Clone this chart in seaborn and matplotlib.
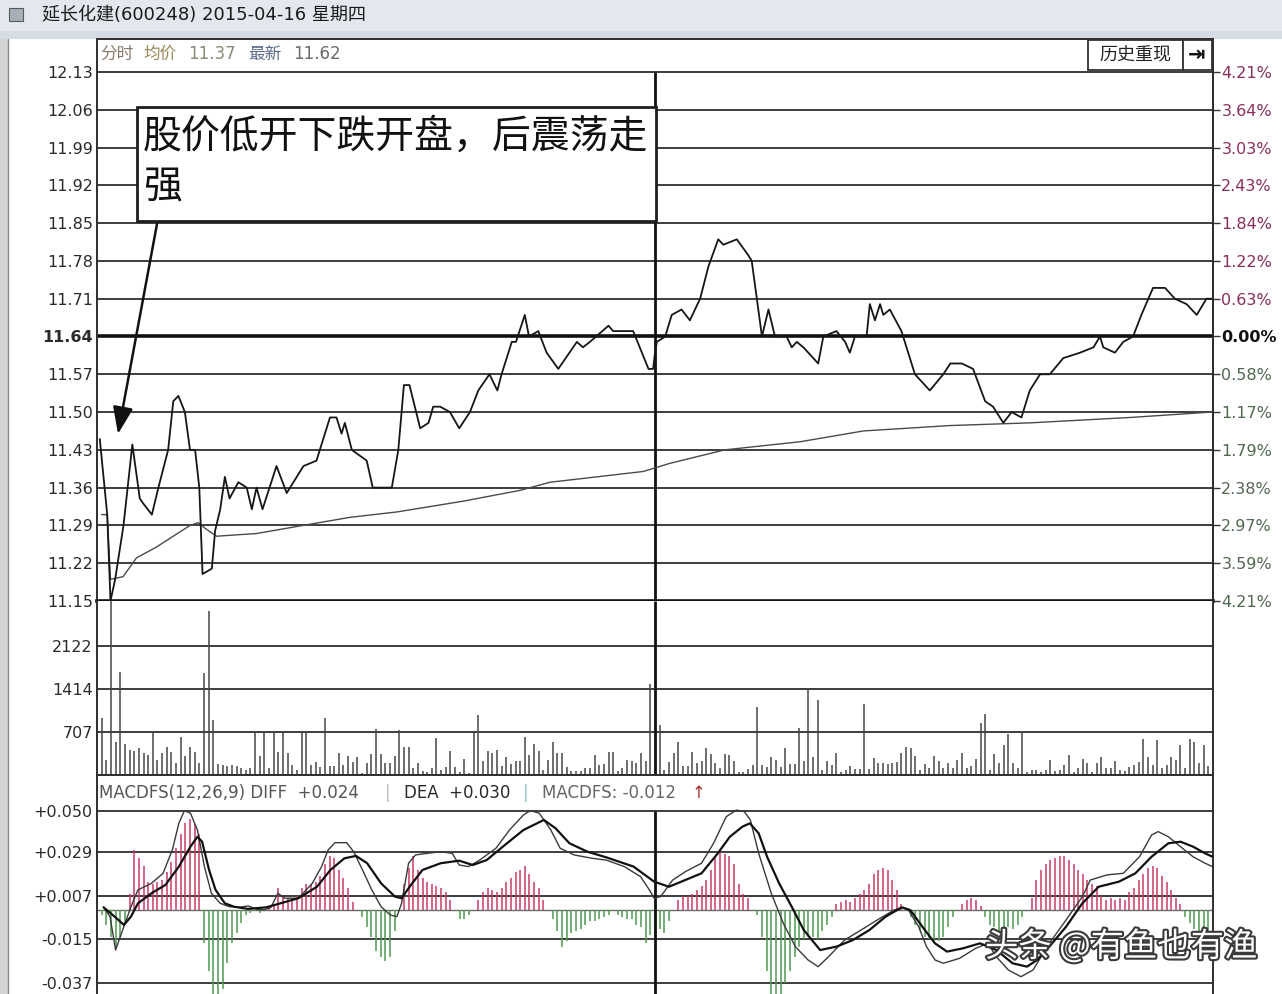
import matplotlib
matplotlib.use("Agg")
import numpy as np
import pandas as pd
import matplotlib.pyplot as plt
import matplotlib.patheffects as pe
from matplotlib.patches import Rectangle
from matplotlib.lines import Line2D
import seaborn as sns

# ---------------- data ----------------
title_text = "延长化建(600248) 2015-04-16 星期四"
annotation_lines = ["股价低开下跌开盘，后震荡走", "强"]

# price axis (left) and change vs. previous close 11.64 (right)
price_ticks = [12.13, 12.06, 11.99, 11.92, 11.85, 11.78, 11.71, 11.64,
               11.57, 11.50, 11.43, 11.36, 11.29, 11.22, 11.15]
pct_labels = ["4.21%", "3.64%", "3.03%", "2.43%", "1.84%", "1.22%", "0.63%", "0.00%",
              "0.58%", "1.17%", "1.79%", "2.38%", "2.97%", "3.59%", "4.21%"]
prev_close = 11.64

# intraday price (minute index 0..240, 120 = 11:30/13:00)
price_minute = [0.6, 2.2, 2.9, 3.9, 5.7, 7.6, 9.2, 10.0, 11.8, 13.2,
                15.3, 16.4, 17.5, 18.9, 20.0, 21.1, 22.0, 22.7, 24.7, 25.4,
                26.5, 27.5, 28.5, 30.4, 32.2, 33.3, 34.3, 35.6, 38.6, 40.8,
                44.4, 47.2, 50.1, 51.5, 52.6, 53.3, 54.8, 58.0, 59.3, 63.4,
                64.8, 66.0, 67.2, 69.5, 71.3, 72.3, 73.8, 75.9, 77.9, 80.2,
                82.0, 84.4, 86.1, 87.0, 89.2, 90.1, 92.0, 92.9, 94.9, 96.7,
                99.2, 103.2, 104.5, 106.0, 110.0, 111.0, 115.3, 118.6, 119.6, 120.0,
                120.4, 122.2, 123.6, 125.7, 127.5, 129.7, 131.5, 133.6, 134.7, 137.6,
                140.1, 140.8, 143.0, 144.4, 145.8, 148.3, 149.4, 150.5, 151.9, 155.1,
                156.2, 159.0, 160.9, 161.9, 163.0, 165.5, 166.2, 167.3, 168.4, 169.1,
                170.5, 173.0, 175.9, 179.1, 182.0, 183.5, 186.0, 188.4, 191.0, 192.7,
                194.9, 196.7, 198.8, 200.6, 202.8, 204.9, 207.8, 211.4, 214.3, 215.7,
                216.4, 218.9, 220.7, 222.8, 224.6, 227.1, 229.7, 231.8, 234.3, 236.5,
                238.6, 239.7]
price_value = [11.45, 11.31, 11.15, 11.19, 11.29, 11.44, 11.34, 11.33, 11.31, 11.36,
               11.43, 11.52, 11.53, 11.50, 11.43, 11.43, 11.36, 11.20, 11.21, 11.28,
               11.32, 11.38, 11.34, 11.37, 11.36, 11.32, 11.36, 11.32, 11.40, 11.35,
               11.40, 11.41, 11.49, 11.49, 11.46, 11.48, 11.43, 11.41, 11.36, 11.36,
               11.43, 11.55, 11.55, 11.47, 11.48, 11.51, 11.51, 11.50, 11.47, 11.50,
               11.54, 11.57, 11.54, 11.57, 11.63, 11.63, 11.68, 11.64, 11.65, 11.61,
               11.58, 11.63, 11.62, 11.63, 11.66, 11.65, 11.65, 11.58, 11.58, 11.61,
               11.63, 11.64, 11.68, 11.69, 11.67, 11.71, 11.77, 11.82, 11.81, 11.82,
               11.79, 11.78, 11.64, 11.69, 11.64, 11.64, 11.62, 11.63, 11.62, 11.59,
               11.64, 11.65, 11.63, 11.61, 11.64, 11.64, 11.70, 11.67, 11.70, 11.68,
               11.69, 11.65, 11.57, 11.54, 11.57, 11.59, 11.59, 11.58, 11.52, 11.51,
               11.48, 11.50, 11.49, 11.54, 11.57, 11.57, 11.60, 11.61, 11.62, 11.64,
               11.62, 11.61, 11.63, 11.64, 11.68, 11.73, 11.73, 11.71, 11.70, 11.68,
               11.71, 11.71]

# average price line
avg_minute = [1.0, 2.2, 2.9, 5.6, 8.5, 12.8, 16.4, 20.0, 21.8, 23.2, 25.7, 34.3, 44.3, 54.4,
              64.5, 78.8, 91.0, 97.4, 107.5, 117.5, 123.2, 135.0, 151.2, 164.8, 183.4,
              200.6, 222.2, 239.7]
avg_value = [11.31, 11.31, 11.19, 11.195, 11.23, 11.25, 11.27, 11.29, 11.295, 11.285, 11.27,
             11.275, 11.29, 11.305, 11.315, 11.335, 11.355, 11.37, 11.38, 11.39, 11.405,
             11.43, 11.445, 11.465, 11.475, 11.48, 11.49, 11.50]

# per-minute volume (lots), minute 0..240
volume = [0, 932, 247, 3000, 548, 1699, 510, 411, 400, 444,
          367, 329, 696, 247, 356, 455, 384, 203, 619, 312,
          455, 384, 203, 1682, 2701, 904, 175, 160, 150, 165,
          140, 120, 90, 110, 696, 312, 723, 110, 696, 384,
          696, 356, 164, 82, 696, 696, 164, 219, 137, 942,
          140, 140, 356, 164, 312, 219, 290, 27, 203, 345,
          751, 345, 192, 192, 312, 740, 455, 466, 110, 192,
          71, 55, 110, 603, 82, 137, 400, 137, 55, 258,
          27, 696, 986, 236, 400, 356, 411, 148, 290, 181,
          230, 230, 630, 329, 510, 400, 82, 247, 548, 367,
          367, 126, 71, 71, 71, 110, 110, 329, 164, 181,
          384, 384, 71, 110, 247, 236, 192, 367, 236, 1496,
          0, 822, 82, 219, 367, 548, 148, 148, 384, 192,
          236, 444, 345, 203, 110, 345, 329, 236, 55, 55,
          93, 164, 1112, 164, 137, 301, 247, 137, 444, 181,
          181, 767, 236, 1408, 301, 1233, 82, 236, 164, 356,
          55, 82, 148, 93, 93, 1167, 93, 274, 192, 192,
          181, 192, 219, 367, 455, 444, 312, 82, 181, 110,
          312, 236, 110, 203, 110, 247, 367, 110, 148, 258,
          849, 1002, 82, 345, 192, 493, 674, 192, 110, 729,
          55, 82, 82, 55, 82, 247, 71, 82, 164, 329,
          55, 110, 258, 192, 55, 192, 290, 110, 110, 236,
          82, 71, 137, 164, 219, 592, 290, 164, 581, 110,
          164, 301, 247, 493, 110, 592, 548, 203, 493, 150,
          0]
volume_ticks = [707, 1414, 2122]

# MACDFS histogram per minute, in thousandths
macd_hist_milli = [0, -3, -8, -14, -19, -15, -8, 8, 30, 26,
                   22, 14, 13, 14, 15, 19, 24, 31, 38, 44,
                   46, 43, 38, -17, -31, -46, -45, -40, -27, -17,
                   -12, -7, -3, -2, -1, -2, -1, 1, 2, 11,
                   7, 6, 6, 7, 11, 13, 13, 14, 17, 23,
                   27, 26, 20, 16, 11, 4, 0, -4, -9, -14,
                   -21, -24, -26, -24, -11, 0, 13, 21, 27, 20,
                   16, 14, 13, 12, 11, 9, 5, 0, -5, -5,
                   -3, 0, 5, 9, 11, 10, 9, 11, 14, 16,
                   19, 20, 22, 18, 14, 11, 5, 0, -5, -11,
                   -19, -16, -12, -11, -10, -8, -6, -6, -5, -4,
                   -3, 0, -3, -4, -5, -5, -8, -9, -17, -13,
                   -15, -10, -12, -6, 0, 5, 7, 7, 8, 10,
                   12, 15, 20, 26, 29, 28, 27, 23, 13, 8,
                   6, 0, -3, -14, -31, -43, -45, -45, -37, -31,
                   -24, -19, -15, -14, -14, -15, -11, -8, -4, 3,
                   4, 5, 4, 6, 8, 10, 13, 18, 20, 21,
                   20, 15, 10, 3, 0, -4, -8, -11, -14, -15,
                   -17, -16, -14, -9, -4, 0, 3, 5, 6, 5,
                   2, -4, -8, -9, -11, -11, -9, -10, -8, -4,
                   0, 6, 15, 20, 23, 25, 26, 27, 27, 25,
                   23, 20, 18, 15, 13, 12, 7, 5, 6, 5,
                   6, 5, 9, 11, 15, 18, 21, 22, 21, 17,
                   14, 10, 6, 3, -4, -7, -10, -11, -9, -11,
                   -9]

diff_minute = [1.4, 2.8, 4.0, 5.0, 7.3, 8.8, 11.7, 14.2, 16.2, 17.6, 18.8, 20.1, 21.6, 23.1,
               24.6, 26.5, 28.5, 30.5, 32.5, 34.4, 35.9, 37.4, 38.9, 40.4, 43.3, 46.3, 48.3,
               49.7, 51.2, 53.7, 55.2, 57.1, 59.1, 61.1, 63.1, 64.5, 65.5, 67.0, 68.5, 71.0,
               73.9, 76.4, 77.9, 79.9, 82.3, 85.8, 88.7, 91.7, 93.2, 95.1, 97.6, 99.6, 102.6,
               106.5, 109.5, 113.4, 116.9, 118.8, 119.8, 121.2, 123.8, 126.5, 130.0, 132.6,
               135.3, 137.5, 139.2, 140.5, 142.3, 145.0, 147.6, 150.2, 152.9, 155.1, 157.3,
               160.8, 164.3, 167.8, 171.4, 173.1, 174.5, 176.7, 178.4, 180.2, 182.0, 185.5,
               189.0, 191.6, 193.4, 196.0, 198.7, 201.3, 204.8, 208.4, 211.9, 213.6, 217.2,
               220.7, 224.2, 226.8, 228.2, 230.4, 233.0, 235.7, 238.3, 239.9]
diff_value = [0.0011, -0.0036, -0.0205, -0.0138, 0.0014, 0.0099, 0.0132, 0.0183, 0.0301,
              0.0436, 0.0500, 0.0487, 0.0402, 0.0217, 0.0082, 0.0031, 0.0014, 0.0011, 0.0018,
              0.0001, -0.0002, 0.0011, 0.0082, 0.0057, 0.0057, 0.0132, 0.0217, 0.0301, 0.0338,
              0.0338, 0.0292, 0.0200, 0.0099, 0.0014, -0.0028, -0.0036, 0.0031, 0.0234, 0.0276,
              0.0284, 0.0292, 0.0284, 0.0225, 0.0217, 0.0250, 0.0310, 0.0402, 0.0478, 0.0500,
              0.0487, 0.0402, 0.0310, 0.0276, 0.0259, 0.0250, 0.0217, 0.0166, 0.0099, 0.0057,
              0.0065, 0.0149, 0.0191, 0.0234, 0.0335, 0.0469, 0.0503, 0.0495, 0.0453, 0.0284,
              0.0082, -0.0070, -0.0188, -0.0255, -0.0289, -0.0239, -0.0154, -0.0104, -0.0053,
              -0.0003, 0.0011, -0.0003, -0.0087, -0.0188, -0.0255, -0.0272, -0.0247, -0.0196,
              -0.0171, -0.0239, -0.0306, -0.0340, -0.0306, -0.0171, -0.0053, 0.0065, 0.0149,
              0.0175, 0.0183, 0.0267, 0.0377, 0.0394, 0.0368, 0.0318, 0.0267, 0.0234, 0.0217]

dea_minute = [1.4, 3.8, 5.8, 7.3, 8.8, 11.7, 14.7, 17.6, 20.1, 21.6, 22.6, 24.1, 25.5, 27.5,
              29.5, 32.5, 36.4, 39.4, 43.3, 47.3, 50.2, 53.2, 55.7, 58.1, 61.1, 64.1, 65.5,
              67.5, 70.0, 73.9, 77.9, 80.8, 83.8, 87.7, 91.7, 96.1, 98.6, 101.6, 105.5, 109.5,
              115.4, 119.8, 123.0, 126.5, 130.0, 133.5, 136.1, 138.8, 140.4, 142.3, 144.1,
              146.7, 149.4, 152.0, 155.5, 159.0, 162.6, 166.1, 169.6, 173.1, 174.9, 177.5,
              180.2, 182.8, 186.3, 189.9, 193.4, 196.9, 200.0, 202.2, 204.8, 208.4, 211.9,
              215.4, 219.8, 223.3, 226.8, 230.4, 233.0, 235.7, 238.3, 239.9]
dea_value = [0.0011, -0.0036, -0.0078, -0.0036, 0.0031, 0.0082, 0.0124, 0.0217, 0.0318,
             0.0368, 0.0343, 0.0200, 0.0099, 0.0031, 0.0014, 0.0003, 0.0011, 0.0031, 0.0057,
             0.0115, 0.0200, 0.0259, 0.0271, 0.0234, 0.0132, 0.0065, 0.0057, 0.0124, 0.0200,
             0.0234, 0.0247, 0.0225, 0.0250, 0.0326, 0.0402, 0.0453, 0.0411, 0.0335, 0.0292,
             0.0264, 0.0217, 0.0141, 0.0115, 0.0149, 0.0183, 0.0284, 0.0368, 0.0419, 0.0436,
             0.0385, 0.0267, 0.0132, 0.0014, -0.0104, -0.0205, -0.0188, -0.0154, -0.0104,
             -0.0036, 0.0011, -0.0003, -0.0087, -0.0171, -0.0213, -0.0196, -0.0171, -0.0205,
             -0.0272, -0.0289, -0.0255, -0.0188, -0.0087, 0.0031, 0.0115, 0.0141, 0.0183,
             0.0267, 0.0335, 0.0343, 0.0318, 0.0284, 0.0267]

macd_ticks = [0.050, 0.029, 0.007, -0.015, -0.037]
macd_tick_labels = ["+0.050", "+0.029", "+0.007", "-0.015", "-0.037"]

# ---------------- style ----------------
sns.set_theme(style="white")
plt.rcParams["font.family"] = ["Noto Sans CJK SC", "DejaVu Sans"]
plt.rcParams["axes.unicode_minus"] = False

NUM_FONT = ["DejaVu Sans", "Noto Sans CJK SC"]   # wide latin digits, CJK fallback

W, H = 1282, 994
fig = plt.figure(figsize=(W / 100, H / 100), dpi=100, facecolor="white")

GRID = "#2e2e2e"
TXT = "#2a2a2a"


def fx(x):
    return x / W


def fy(y):
    return 1 - y / H


def add_rect(x0, y0, x1, y1, **kw):
    r = Rectangle((fx(x0), fy(y1)), (x1 - x0) / W, (y1 - y0) / H,
                  transform=fig.transFigure, **kw)
    fig.add_artist(r)
    return r


def add_line(x0, y0, x1, y1, **kw):
    fig.add_artist(Line2D([fx(x0), fx(x1)], [fy(y0), fy(y1)],
                          transform=fig.transFigure, **kw))


def panel(x0, y0, x1, y1):
    ax = fig.add_axes([fx(x0), fy(y1), (x1 - x0) / W, (y1 - y0) / H])
    ax.set_facecolor("white")
    ax.set_xlim(0, 240)
    ax.set_xticks([])
    for s in ax.spines.values():
        s.set_color(GRID)
        s.set_linewidth(1.4)
    return ax


def style_left_labels(ax, bold_value=None, ticks=None):
    for lab in ax.get_yticklabels():
        lab.set_family(NUM_FONT)
    if bold_value is not None:
        for lab, t in zip(ax.get_yticklabels(), ticks):
            if abs(t - bold_value) < 1e-9:
                lab.set_fontweight("bold")


# window chrome
add_rect(0, 0, W, 31, fc="#e3e8ee", ec="none", zorder=-5)
add_rect(0, 31, W, 39, fc="#d5dce5", ec="none", zorder=-5)
add_rect(0, 39, 8, H, fc="#d4d4d4", ec="none", zorder=-5)
add_line(8, 39, 8, H, color="#888888", lw=1, zorder=3)
add_rect(9, 8, 23, 21, fc="#a7afb8", ec="#5a5a5a", lw=0.8, zorder=3)
fig.text(fx(42), fy(15), title_text, fontsize=13, color="#1b1b1b", va="center", ha="left",
         family=NUM_FONT)

# ---------------- price panel ----------------
ax_p = panel(97, 39, 1213, 601)
px_per_unit = 539.8
ax_p.set_ylim(11.15, 11.15 + (601 - 39) / px_per_unit)
for t in price_ticks:
    if abs(t - 11.15) < 1e-9:
        continue
    if abs(t - prev_close) < 1e-9:
        ax_p.axhline(t, color="#111111", lw=2.6, zorder=2)
    else:
        ax_p.axhline(t, color=GRID, lw=1.3, zorder=1)
ax_p.spines["bottom"].set_linewidth(2.6)
ax_p.spines["bottom"].set_color("#111111")
ax_p.vlines(120, 11.15, 12.13, color="#111111", lw=2, zorder=3)

price_df = pd.DataFrame({"minute": price_minute, "price": price_value})
avg_df = pd.DataFrame({"minute": avg_minute, "avg": avg_value})
sns.lineplot(data=avg_df, x="minute", y="avg", ax=ax_p, color="#4a4a4a", lw=1.0,
             estimator=None, sort=False, legend=False, zorder=4)
sns.lineplot(data=price_df, x="minute", y="price", ax=ax_p, color="#161616", lw=1.3,
             estimator=None, sort=False, legend=False, zorder=5)
ax_p.set_xlabel("")
ax_p.set_ylabel("")
ax_p.set_xlim(0, 240)
ax_p.set_yticks(price_ticks)
ax_p.set_yticklabels([f"{t:.2f}" for t in price_ticks])
ax_p.tick_params(axis="y", length=0, pad=3, labelsize=11.5, labelcolor=TXT)
style_left_labels(ax_p, prev_close, price_ticks)

ax_r = ax_p.twinx()
ax_r.set_ylim(ax_p.get_ylim())
ax_r.set_yticks(price_ticks)
ax_r.set_yticklabels(pct_labels)
ax_r.tick_params(axis="y", length=5, width=1, color="#333333", pad=1, labelsize=11.5)
for s in ["top", "bottom", "left"]:
    ax_r.spines[s].set_visible(False)
ax_r.spines["right"].set_color(GRID)
ax_r.spines["right"].set_linewidth(1.4)
for lab, t in zip(ax_r.get_yticklabels(), price_ticks):
    lab.set_family(NUM_FONT)
    if abs(t - prev_close) < 1e-9:
        lab.set_color("#111111")
        lab.set_fontweight("bold")
    elif t > prev_close:
        lab.set_color("#8a2e5c")
    else:
        lab.set_color("#4f684f")

# header line inside the price panel
hy = fy(54)
fig.text(fx(100), hy, "分时", fontsize=12, color="#8a7a6a", va="center")
fig.text(fx(143), hy, "均价", fontsize=12, color="#9a8a5a", va="center")
fig.text(fx(188), hy, "11.37", fontsize=12, color="#8a8a7a", va="center", family=NUM_FONT)
fig.text(fx(248), hy, "最新", fontsize=12, color="#5a6a8a", va="center")
fig.text(fx(293), hy, "11.62", fontsize=12, color="#6a6a6a", va="center", family=NUM_FONT)

# buttons on the top right
add_rect(1088, 40, 1183, 70, fc="white", ec="#333333", lw=1.3, zorder=6)
add_rect(1183, 40, 1212, 70, fc="white", ec="#333333", lw=1.3, zorder=6)
fig.text(fx(1135), fy(55), "历史重现", fontsize=13, color="#222222",
         ha="center", va="center", zorder=7)
fig.text(fx(1197), fy(55), "⇥", fontsize=15, color="#111111", fontweight="bold",
         ha="center", va="center", zorder=7, family=["DejaVu Sans"])

# annotation box with arrow
add_rect(137, 107, 656, 221, fc="white", ec="#1e1e1e", lw=2, zorder=8)
fig.text(fx(143), fy(137), annotation_lines[0], fontsize=28, color="#111111",
         va="center", ha="left", zorder=9)
fig.text(fx(143), fy(187), annotation_lines[1], fontsize=28, color="#111111",
         va="center", ha="left", zorder=9)
ax_p.annotate("", xy=(fx(118), fy(434)), xycoords="figure fraction",
              xytext=(fx(157), fy(224)), textcoords="figure fraction",
              arrowprops=dict(arrowstyle="-|>,head_length=0.75,head_width=0.28",
                              color="#111111", lw=1.8, mutation_scale=22,
                              shrinkA=0, shrinkB=0),
              zorder=9)

# ---------------- volume panel ----------------
ax_v = panel(97, 601, 1213, 775)
ax_v.set_ylim(0, (775 - 601) * 707 / 43)
for t in volume_ticks:
    ax_v.axhline(t, color=GRID, lw=1.3, zorder=1)
ax_v.spines["top"].set_visible(False)
minutes = np.arange(len(volume))
ax_v.vlines(minutes, 0, volume, colors="#474747", lw=1.1, zorder=3)
ax_v.vlines(120, 0, ax_v.get_ylim()[1], color="#111111", lw=2, zorder=4)
ax_v.set_yticks(volume_ticks)
ax_v.set_yticklabels([str(t) for t in volume_ticks])
ax_v.tick_params(axis="y", length=0, pad=3, labelsize=11.5, labelcolor=TXT)
style_left_labels(ax_v)

# ---------------- MACD panel ----------------
ax_m = panel(97, 775, 1213, H)
zero_y, m_scale = 909.5, 1977.0
ax_m.set_ylim((zero_y - H) / m_scale, (zero_y - 775) / m_scale)
for t in macd_ticks:
    ax_m.axhline(t, color=GRID, lw=1.3, zorder=1)
ax_m.axhline(0, color="#6a6a6a", lw=1.0, zorder=1)
ax_m.spines["bottom"].set_visible(False)
hist = np.array(macd_hist_milli) / 1000.0
hist_colors = ["#c93a62" if v > 0 else "#4e9a4e" for v in hist]
ax_m.vlines(np.arange(len(hist)), 0, hist, colors=hist_colors, lw=1.1, zorder=2)
ax_m.vlines(120, ax_m.get_ylim()[0], 0.050, color="#111111", lw=2, zorder=4)

diff_df = pd.DataFrame({"minute": diff_minute, "DIFF": diff_value})
dea_df = pd.DataFrame({"minute": dea_minute, "DEA": dea_value})
sns.lineplot(data=diff_df, x="minute", y="DIFF", ax=ax_m, color="#3a3a3a", lw=1.0,
             estimator=None, sort=False, legend=False, zorder=5)
sns.lineplot(data=dea_df, x="minute", y="DEA", ax=ax_m, color="#111111", lw=1.6,
             estimator=None, sort=False, legend=False, zorder=5)
ax_m.set_xlabel("")
ax_m.set_ylabel("")
ax_m.set_xlim(0, 240)
ax_m.set_yticks(macd_ticks)
ax_m.set_yticklabels(macd_tick_labels)
ax_m.tick_params(axis="y", length=0, pad=3, labelsize=11.5, labelcolor=TXT)
style_left_labels(ax_m)

my = fy(793)
fig.text(fx(99), my, "MACDFS(12,26,9) DIFF  +0.024", fontsize=12, color="#555555",
         va="center", family=NUM_FONT)
fig.text(fx(385), my, "|", fontsize=12, color="#bbbbbb", va="center", family=NUM_FONT)
fig.text(fx(404), my, "DEA  +0.030", fontsize=12, color="#2a2a2a", va="center",
         family=NUM_FONT)
fig.text(fx(523), my, "|", fontsize=12, color="#8fc8c8", va="center", family=NUM_FONT)
fig.text(fx(542), my, "MACDFS: -0.012", fontsize=12, color="#666666", va="center",
         family=NUM_FONT)
fig.text(fx(692), my, "↑", fontsize=12, color="#b03030", va="center", family=["DejaVu Sans"])

# watermark
fig.text(fx(985), fy(947), "头条 @有鱼也有渔", fontsize=24, color="white",
         va="center", ha="left", zorder=10,
         path_effects=[pe.withStroke(linewidth=3, foreground="#3a3a3a")])

fig.savefig("out.png", dpi=100, facecolor=fig.get_facecolor())
